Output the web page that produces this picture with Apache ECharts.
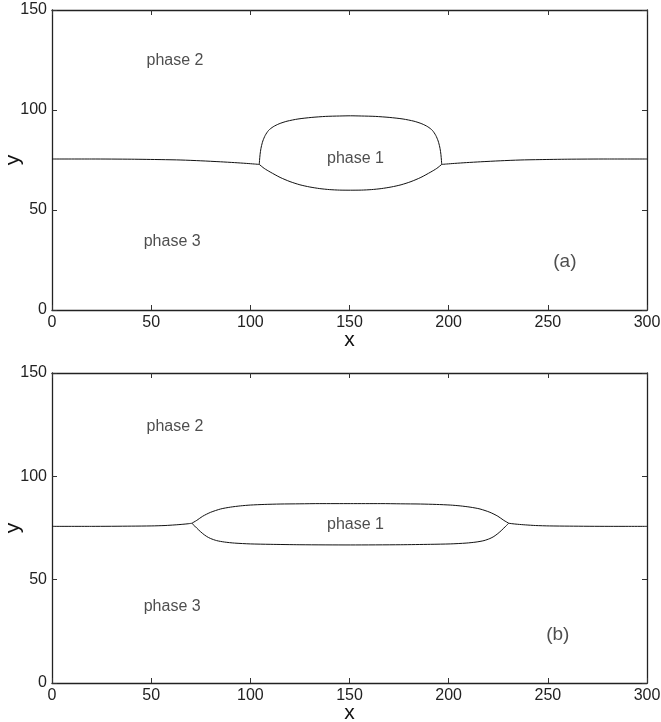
<!DOCTYPE html>
<html><head><meta charset="utf-8">
<script src="https://cdn.jsdelivr.net/npm/echarts@6/dist/echarts.min.js"></script>
<style>html,body{margin:0;padding:0;background:#fff}#c{width:661px;height:722px}</style>
</head><body><div id="c"></div>
<script>
// ---------- Panel (a) ----------
const aOuterLeftX = [0, 20, 40, 55, 65, 75, 85, 92, 98, 102, 104.5];
const aOuterLeftY = [75.5, 75.5, 75.4, 75.2, 75.0, 74.6, 74.1, 73.7, 73.3, 73.0, 72.8];
const aOuterRightX = [196.5, 199, 203, 209, 216, 226, 236, 246, 260, 280, 300];
const aOuterRightY = [72.8, 73.0, 73.3, 73.7, 74.1, 74.6, 75.0, 75.2, 75.4, 75.5, 75.5];
const aUpperX = [104.5, 104.7, 105, 105.5, 106.3, 107.5, 109.2, 111.5, 114.5, 118.5, 124, 131, 138, 145, 150.5, 156, 163, 170, 177, 182.5, 186.5, 189.5, 191.8, 193.5, 194.7, 195.5, 196, 196.3, 196.5];
const aUpperY = [72.8, 75.5, 78.5, 81.5, 84.5, 87.3, 89.8, 91.6, 93.1, 94.4, 95.5, 96.3, 96.8, 97.0, 97.1, 97.0, 96.8, 96.3, 95.5, 94.4, 93.1, 91.6, 89.8, 87.3, 84.5, 81.5, 78.5, 75.5, 72.8];
const aLowerX = [104.5, 107, 110, 115, 120, 125, 130, 135, 140, 145, 150.5, 156, 161, 166, 171, 176, 181, 186, 191, 194, 196.5];
const aLowerY = [72.8, 70.8, 69, 66.3, 64.2, 62.6, 61.5, 60.7, 60.2, 59.95, 59.9, 59.95, 60.2, 60.7, 61.5, 62.6, 64.2, 66.3, 69, 70.8, 72.8];
const aTexts = ['phase 2', 'phase 1', 'phase 3', '(a)'];
const aTextX = [62, 153, 60.6, 258.6];
const aTextY = [124.5, 75.5, 34, 24];

// ---------- Panel (b) ----------
const bOuterLeftX = [0, 20, 40, 50, 57, 62, 66, 69, 70.5];
const bOuterLeftY = [75.8, 75.8, 75.9, 76.0, 76.2, 76.5, 76.8, 77.1, 77.3];
const bOuterRightX = [230.3, 231.8, 234.8, 238.8, 243.8, 250.8, 260.8, 280.8, 300];
const bOuterRightY = [77.3, 77.1, 76.8, 76.5, 76.2, 76.0, 75.9, 75.8, 75.8];
const bUpperX = [70.5, 73, 76, 80, 85, 90, 95, 100, 107, 115, 125, 135, 150.4, 165.8, 175.8, 185.8, 193.8, 200.8, 205.8, 210.8, 215.8, 220.8, 224.8, 227.8, 230.3];
const bUpperY = [77.3, 78.7, 80.7, 82.6, 84.2, 85.1, 85.7, 86.1, 86.4, 86.6, 86.7, 86.8, 86.8, 86.8, 86.7, 86.6, 86.4, 86.1, 85.7, 85.1, 84.2, 82.6, 80.7, 78.7, 77.3];
const bLowerX = [70.5, 72, 74, 76, 78, 80, 83, 87, 92, 100, 110, 125, 150.4, 175.8, 190.8, 200.8, 208.8, 213.8, 217.8, 220.8, 222.8, 224.8, 226.8, 228.8, 230.3];
const bLowerY = [77.3, 75.9, 74.0, 72.3, 70.9, 69.9, 68.9, 68.2, 67.7, 67.3, 67.1, 66.9, 66.8, 66.9, 67.1, 67.3, 67.7, 68.2, 68.9, 69.9, 70.9, 72.3, 74.0, 75.9, 77.3];
const bTexts = ['phase 2', 'phase 1', 'phase 3', '(b)'];
const bTextX = [62, 153, 60.6, 255];
const bTextY = [124, 76.8, 37, 23.5];

// ---------- Axis ticks ----------
const xMin = 0, xMax = 300, xStep = 50;
const yMin = 0, yMax = 150, yStep = 50;

const zip = (xs, ys) => xs.map((x, i) => [x, ys[i]]);
const FONT = 'Liberation Sans';
const axisLine = {show: true, onZero: false, lineStyle: {color: '#222', width: 1.3}};
const tick = {show: true, inside: true, length: 5, lineStyle: {color: '#333', width: 1}};
const lbl = {color: '#222', fontSize: 16, fontFamily: FONT, margin: 5};

function xAxes(g) {
  return [
    {gridIndex: g, type: 'value', min: xMin, max: xMax, interval: xStep, position: 'bottom',
     axisLine, axisTick: tick, axisLabel: lbl, splitLine: {show: false},
     name: 'x', nameLocation: 'middle', nameGap: 20, nameMoveOverlap: false,
     nameTextStyle: {fontSize: 21, fontFamily: FONT, color: '#111'}},
    {gridIndex: g, type: 'value', min: xMin, max: xMax, interval: xStep, position: 'top',
     axisLine, axisTick: tick, axisLabel: {show: false}, splitLine: {show: false}}
  ];
}
function yAxes(g) {
  return [
    {gridIndex: g, type: 'value', min: yMin, max: yMax, interval: yStep, position: 'left',
     axisLine, axisTick: tick, axisLabel: lbl, splitLine: {show: false},
     name: 'y', nameLocation: 'middle', nameGap: 28, nameMoveOverlap: false,
     nameTextStyle: {fontSize: 21, fontFamily: FONT, color: '#111'}},
    {gridIndex: g, type: 'value', min: yMin, max: yMax, interval: yStep, position: 'right',
     axisLine, axisTick: tick, axisLabel: {show: false}, splitLine: {show: false}}
  ];
}
function curve(xi, yi, xs, ys) {
  return {type: 'line', xAxisIndex: xi, yAxisIndex: yi, data: zip(xs, ys),
    showSymbol: false, smooth: 0.25, lineStyle: {color: '#111', width: 1}, silent: true, animation: false};
}
function texts(xi, yi, names, xs, ys) {
  return {type: 'scatter', xAxisIndex: xi, yAxisIndex: yi, symbolSize: 0, silent: true, animation: false,
    data: names.map((n, i) => ({name: n, value: [xs[i], ys[i]]})),
    label: {show: true, position: 'inside', formatter: p => p.name, color: '#222', fontFamily: FONT,
      fontSize: 16}};
}

const chart = echarts.init(document.getElementById('c'), null, {renderer: 'canvas'});
const tA = texts(0, 0, aTexts, aTextX, aTextY);
tA.data[3].label = {fontSize: 19};
const tB = texts(2, 2, bTexts, bTextX, bTextY);
tB.data[3].label = {fontSize: 19};
chart.setOption({
  backgroundColor: '#fff',
  animation: false,
  grid: [
    {left: 52, right: 14, top: 10, height: 300, containLabel: false, outerBoundsMode: 'none'},
    {left: 52, right: 14, top: 373, height: 310, containLabel: false, outerBoundsMode: 'none'}
  ],
  xAxis: [...xAxes(0), ...xAxes(1)],
  yAxis: [...yAxes(0), ...yAxes(1)],
  series: [
    curve(0, 0, aOuterLeftX, aOuterLeftY),
    curve(0, 0, aOuterRightX, aOuterRightY),
    curve(0, 0, aUpperX, aUpperY),
    curve(0, 0, aLowerX, aLowerY),
    tA,
    curve(2, 2, bOuterLeftX, bOuterLeftY),
    curve(2, 2, bOuterRightX, bOuterRightY),
    curve(2, 2, bUpperX, bUpperY),
    curve(2, 2, bLowerX, bLowerY),
    tB
  ]
});
</script></body></html>
